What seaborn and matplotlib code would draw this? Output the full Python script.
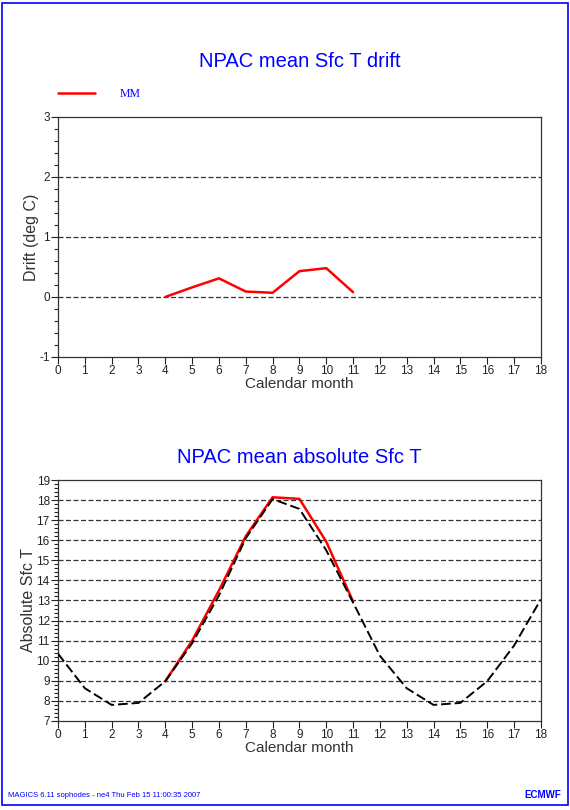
import matplotlib
matplotlib.use("Agg")
import matplotlib.pyplot as plt
from matplotlib.patches import Rectangle
from matplotlib.ticker import MultipleLocator, FormatStrFormatter
import seaborn as sns
import pandas as pd

# drift of forecast ensemble mean (MM)
drift_month = [4, 5, 6, 7, 8, 9, 10, 11]
drift_mm = [0.0, 0.16, 0.31, 0.09, 0.07, 0.43, 0.48, 0.08]

# absolute SST: climatology (black dashed) and forecast (red)
clim_month = list(range(0, 19))
clim_vals = [10.35, 8.63, 7.8, 7.9, 8.98, 10.87, 13.25, 16.1, 18.05, 17.56,
             15.5, 12.9, 10.25, 8.63, 7.8, 7.9, 8.98, 10.75, 13.05]
fc_month = [4, 5, 6, 7, 8, 9, 10, 11]
fc_vals = [8.98, 11.0, 13.5, 16.2, 18.14, 18.06, 15.93, 12.95]

sns.set_style("white")
plt.rcParams["font.family"] = ["Liberation Sans", "DejaVu Sans"]

fig = plt.figure(figsize=(5.7, 8.1), dpi=100)
fig.patches.append(Rectangle((0.004, 0.006), 0.992, 0.99, transform=fig.transFigure,
                             fill=False, edgecolor="blue", lw=1.2))

ax1 = fig.add_axes([0.1018, 0.5593, 0.847, 0.2963])
ax2 = fig.add_axes([0.1018, 0.1099, 0.847, 0.2975])

drift_df = pd.DataFrame({"month": drift_month, "drift": drift_mm})
sns.lineplot(data=drift_df, x="month", y="drift", color="red", lw=1.8, ax=ax1)

clim_df = pd.DataFrame({"month": clim_month, "sst": clim_vals})
fc_df = pd.DataFrame({"month": fc_month, "sst": fc_vals})
sns.lineplot(data=fc_df, x="month", y="sst", color="red", lw=1.8, ax=ax2, zorder=3)
sns.lineplot(data=clim_df, x="month", y="sst", color="black", lw=1.4, ax=ax2,
             linestyle=(0, (5, 2)), zorder=4)


def style_axis(ax, ylim, grid_vals, ylabel, title, title_pad):
    ax.set_xlim(0, 18)
    ax.set_ylim(*ylim)
    ax.xaxis.set_major_locator(MultipleLocator(1))
    ax.yaxis.set_major_locator(MultipleLocator(1))
    ax.yaxis.set_minor_locator(MultipleLocator(0.2))
    ax.yaxis.set_major_formatter(FormatStrFormatter("%d"))
    ax.tick_params(axis="both", which="major", direction="out", length=5, width=0.8,
                   labelsize=8.5, colors="#222222", pad=1)
    ax.tick_params(axis="y", which="minor", direction="out", length=3, width=0.8,
                   left=True, colors="#222222")
    ax.tick_params(axis="x", bottom=True)
    ax.tick_params(axis="y", left=True)
    for s in ax.spines.values():
        s.set_color("#333333")
        s.set_linewidth(0.9)
    for g in grid_vals:
        ax.axhline(g, color="#333333", lw=0.9, linestyle=(0, (4, 2)), zorder=1)
    ax.set_xlabel("Calendar month", fontsize=11, color="#333333", labelpad=0)
    ax.set_ylabel(ylabel, fontsize=11.5, color="#333333", labelpad=0)
    ax.set_title(title, fontsize=14.5, color="blue", pad=title_pad)


style_axis(ax1, (-1, 3), [0, 1, 2], "Drift (deg C)", "NPAC mean Sfc T drift", 36)
style_axis(ax2, (7, 19), list(range(8, 19)), "Absolute Sfc T", "NPAC mean absolute Sfc T", 12)

# legend drawn like the original: short line then label
fig.add_artist(plt.Line2D([0.102, 0.167], [0.885, 0.885], color="red", lw=1.8,
                          transform=fig.transFigure))
fig.text(0.21, 0.884, "MM", color="blue", fontsize=8.5, va="center",
         family=["Liberation Serif", "DejaVu Serif"])

fig.text(0.014, 0.018, "MAGICS 6.11 sophodes - ne4 Thu Feb 15 11:00:35 2007",
         color="blue", fontsize=5.5, va="center")
fig.text(0.985, 0.019, "ECMWF", color="blue", fontsize=7, fontweight="bold",
         ha="right", va="center")

fig.savefig("out.png", dpi=100)
